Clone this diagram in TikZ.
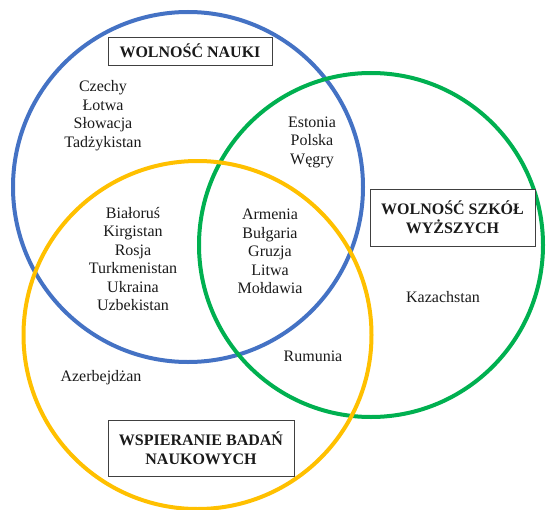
\documentclass[tikz,border=0pt]{standalone}
\usepackage{fontspec}
\setmainfont{Liberation Serif}
\definecolor{vblue}{HTML}{4472C4}
\definecolor{vgreen}{HTML}{00B050}
\definecolor{vyellow}{HTML}{FFC000}
\definecolor{txt}{HTML}{1A1A1A}
\begin{document}
\begin{tikzpicture}[x=0.75pt,y=-0.75pt,
  ring/.style={line width=3pt},
  lbl/.style={align=center,text=txt,inner sep=0pt,font=\fontsize{12}{13.9}\selectfont},
  titlebox/.style={draw=black!75,line width=0.7pt,fill=white,align=center,text=txt,
    font=\fontsize{12}{13.9}\selectfont\bfseries,inner sep=0pt}]
\useasboundingbox (0,0) rectangle (546,510);
% circles
\node[ring,draw=vblue,circle,minimum size=350*0.75pt,inner sep=0pt] (cb) at (188,187) {};
\node[ring,draw=vgreen,circle,minimum size=344*0.75pt,inner sep=0pt] (cg) at (371,245) {};
\node[ring,draw=vyellow,circle,minimum size=348*0.75pt,inner sep=0pt] (cy) at (197.5,335) {};
% title boxes
\node[titlebox,minimum width=164*0.75pt,minimum height=28*0.75pt] (tb) at (190,51) {WOLNOŚĆ NAUKI};
\node[titlebox,minimum width=165*0.75pt,minimum height=57*0.75pt] (tg) at (452.5,217.5) {WOLNOŚĆ SZKÓŁ\\WYŻSZYCH};
\node[titlebox,minimum width=186*0.75pt,minimum height=56*0.75pt] (ty) at (201,448) {WSPIERANIE BADAŃ\\NAUKOWYCH};
% labels
\node[lbl] (l1) at (103,115.5) {Czechy\\Łotwa\\Słowacja\\Tadżykistan};
\node[lbl] (l2) at (312,142) {Estonia\\Polska\\Węgry};
\node[lbl] (l3) at (133,259) {Białoruś\\Kirgistan\\Rosja\\Turkmenistan\\Ukraina\\Uzbekistan};
\node[lbl] (l4) at (270,251.5) {Armenia\\Bułgaria\\Gruzja\\Litwa\\Mołdawia};
\node[lbl] (l5) at (443,297) {Kazachstan};
\node[lbl] (l6) at (313,356) {Rumunia};
\node[lbl] (l7) at (101,378) {Azerbejdżan};
\end{tikzpicture}
\end{document}
